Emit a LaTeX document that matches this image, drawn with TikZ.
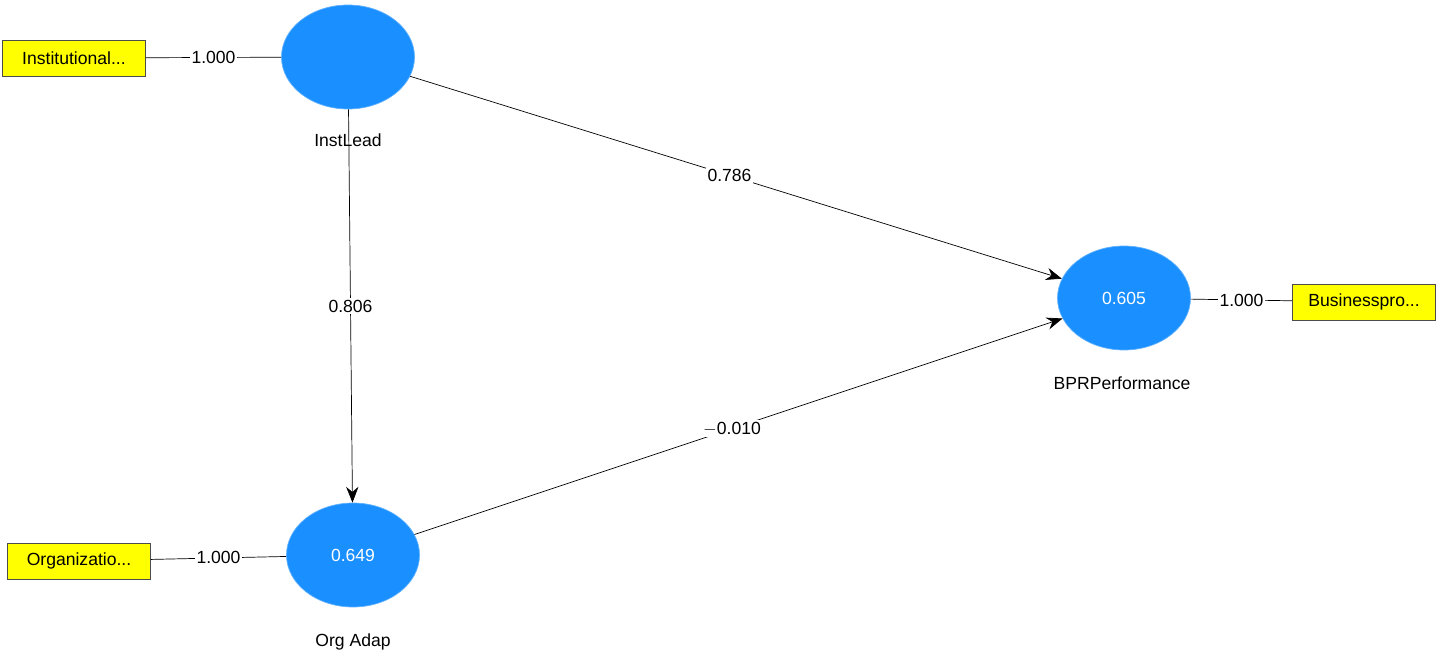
\documentclass[tikz,border=0pt]{standalone}
\usepackage{fontspec}
\setmainfont{Liberation Sans}
\usetikzlibrary{shapes.geometric,arrows.meta,positioning}
\definecolor{lvblue}{HTML}{1A8FFF}
\definecolor{indyellow}{HTML}{FFFF00}
\tikzset{
  latent/.style={ellipse, fill=lvblue, draw=lvblue!70!white, minimum width=2.66cm, minimum height=2.08cm, text=white, font=\fontsize{10}{12}\selectfont},
  indicator/.style={rectangle, fill=indyellow, draw=black!70, minimum width=2.86cm, minimum height=0.72cm, inner sep=1pt, font=\fontsize{10}{12}\selectfont},
  lname/.style={font=\fontsize{10}{12}\selectfont},
  wlabel/.style={fill=white, inner sep=1pt, font=\fontsize{10}{12}\selectfont},
  path/.style={-{Stealth[length=9pt,width=7pt]}, thin}
}
\begin{document}
\begin{tikzpicture}[x=0.02cm, y=-0.02cm]
        \useasboundingbox (0,0) rectangle (1440,658);
        \node[latent]    (IL)  at (348,57)   {};
        \node[latent]    (OA)  at (353,555)  {0.649};
        \node[latent]    (BPR) at (1124,298) {0.605};
        \node[lname]     at (348,140)  {InstLead};
        \node[lname]     at (353,642)  {Org Adap};
        \node[lname]     at (1122,383) {BPRPerformance};
        \node[indicator] (I1) at (74,58)    {Institutional...};
        \node[indicator] (I2) at (79,561)   {Organizatio...};
        \node[indicator] (I3) at (1364,302) {Businesspro...};
        \path[thin]
        (I1) edge node[wlabel]{1.000} (IL)
        (I2) edge node[wlabel]{1.000} (OA)
        (BPR) edge node[wlabel]{1.000} (I3);
        \path[path]
        (IL) edge node[wlabel, pos=0.49]{0.786} (BPR)
        (IL) edge node[wlabel, pos=0.5]{0.806} (OA)
        (OA) edge node[wlabel, pos=0.49]{$-$0.010} (BPR);
\end{tikzpicture}
\end{document}
